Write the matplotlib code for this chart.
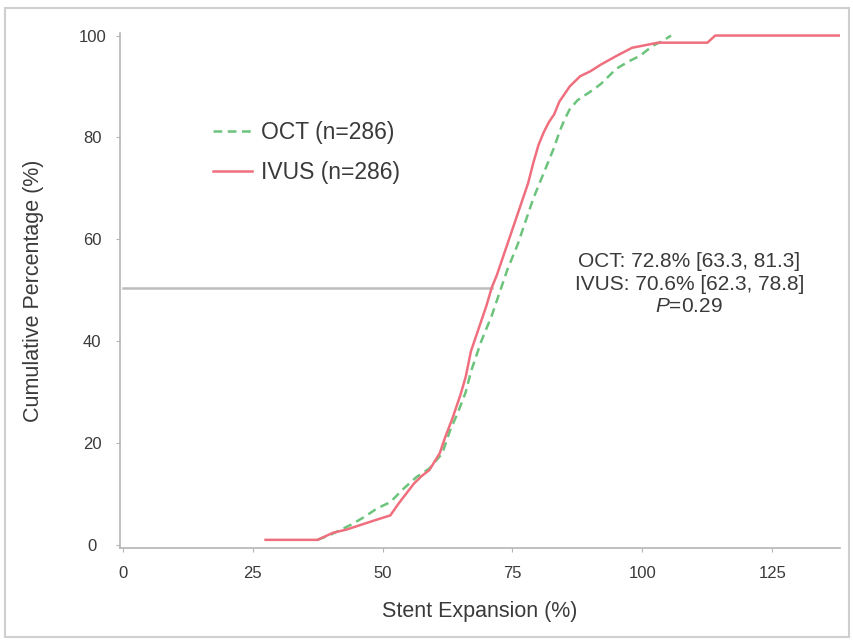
import matplotlib
matplotlib.use('Agg')
import matplotlib.pyplot as plt
from matplotlib.patches import Rectangle

plt.rcParams['font.family'] = ['Liberation Sans', 'DejaVu Sans']
plt.rcParams['mathtext.fontset'] = 'custom'
plt.rcParams['mathtext.it'] = 'Liberation Sans:italic'
plt.rcParams['mathtext.rm'] = 'Liberation Sans'

# cumulative curves (stent expansion %, cumulative %)
ivus_x = [27.5, 37.5, 40.5, 43, 46, 49, 51.5, 53, 54.5, 56, 57.5, 59, 61, 62,
          63.5, 65, 66, 67, 68, 69, 70, 71, 72, 73, 74, 75, 76, 77, 78, 79, 80,
          81, 82, 83, 84, 86, 88, 90, 92, 95, 98, 100, 103, 112.5, 114, 140]
ivus_y = [1, 1, 2.4, 3, 4, 5, 5.8, 8, 10, 12, 13.5, 14.7, 18, 21,
          25, 29.5, 33, 38, 41, 44, 47, 50.5, 53, 56, 59, 62, 65, 68, 71, 75, 78.5,
          81, 83, 84.5, 87, 90, 92, 93, 94.3, 96, 97.6, 98, 98.6, 98.6, 100, 100]

oct_x = [37.5, 40, 42, 44, 46.5, 49, 51.5, 54, 56.5, 59, 61.5, 63, 64.5, 66,
         67, 68, 69, 70, 71, 72, 73, 74, 75, 76, 77, 78, 79, 80, 81, 82, 83, 84,
         85, 86, 87.5, 90, 92, 95, 97.5, 99.5, 102, 104, 105.5]
oct_y = [1, 2, 3, 4, 5.5, 7.2, 8.4, 11, 13.3, 15, 18, 22.5, 26, 30,
         34, 37, 40, 42.5, 45, 48, 51, 54, 56.5, 59, 62, 65, 68, 70.5, 73, 75.5, 78, 81,
         83.5, 85.5, 87.3, 89, 90.5, 93.5, 95, 96, 98, 99, 100]

median_ivus = 71
stats_text = 'OCT: 72.8% [63.3, 81.3]\nIVUS: 70.6% [62.3, 78.8]\n$P$=0.29'

txt = '#3a3a3a'

fig = plt.figure(figsize=(8.54, 6.41), dpi=100)
ax = fig.add_axes([120 / 854, 1 - 548 / 641, 720 / 854, 515 / 641])

# light frame round the whole picture
fig.patches.append(Rectangle((0.006, 0.006), 0.988, 0.982, transform=fig.transFigure,
                             fill=False, edgecolor='#cfcfcf', linewidth=1.5))

ax.plot([0, median_ivus], [50.5, 50.5], color='#bdbdbd', linewidth=1.8)
ax.plot(oct_x, oct_y, color='#6cc47c', linestyle=(0, (3.5, 2.2)), linewidth=1.8,
        label='OCT (n=286)')
ax.plot(ivus_x, ivus_y, color='#ef6f7f', linewidth=1.8, label='IVUS (n=286)')

ax.set_xlim(-0.5, 138)
ax.set_ylim(-0.6, 100.5)
ax.set_xticks([0, 25, 50, 75, 100, 125])
ax.set_yticks([0, 20, 40, 60, 80, 100])

for s in ['top', 'right']:
    ax.spines[s].set_visible(False)
for s in ['left', 'bottom']:
    ax.spines[s].set_color('#b5b5b5')
    ax.spines[s].set_linewidth(1.2)
ax.tick_params(colors='#b5b5b5', labelcolor=txt, labelsize=12, length=3)
ax.tick_params(axis='y', pad=17)
ax.tick_params(axis='x', pad=10)
for lab in ax.get_yticklabels():
    lab.set_horizontalalignment('center')

ax.set_xlabel('Stent Expansion (%)', fontsize=15.5, color=txt, labelpad=14)
ax.set_ylabel('Cumulative Percentage (%)', fontsize=15.5, color=txt, labelpad=25)

ax.legend(loc='upper left', bbox_to_anchor=(0.1, 0.87), frameon=False, fontsize=16.5,
          handlelength=1.7, handletextpad=0.4, labelspacing=0.75, labelcolor=txt)

ax.text(109, 51.2, stats_text, ha='center', va='center', fontsize=15,
        color=txt, linespacing=1.25)

fig.savefig('out.png', dpi=100)
